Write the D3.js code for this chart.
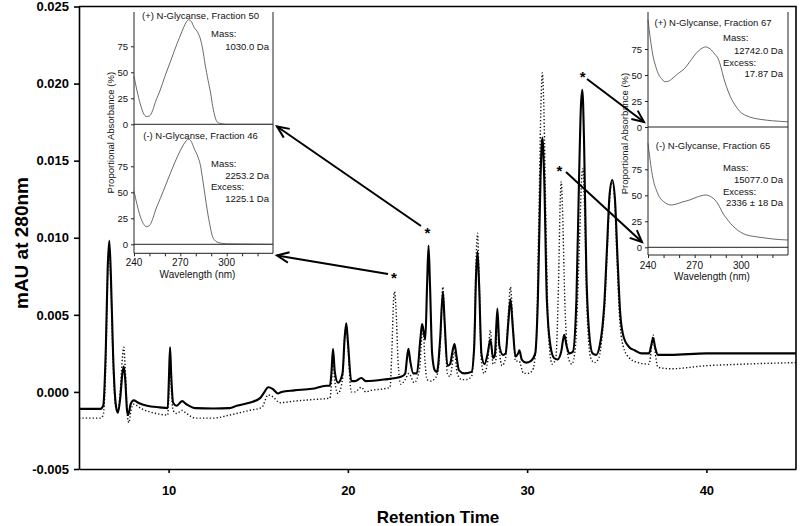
<!DOCTYPE html>
<html><head><meta charset="utf-8">
<script src="https://cdn.jsdelivr.net/npm/d3@7"></script>
<style>
body{margin:0;background:#fff;}
svg{display:block;font-family:"Liberation Sans",Arial,sans-serif;}
</style></head>
<body><svg id="c" width="800" height="526"></svg>
<script>
// ---------------- DATA ----------------
const xTicks = [10, 20, 30, 40];
const yTicks = [-0.005, 0, 0.005, 0.010, 0.015, 0.020, 0.025];

// (+) N-Glycanse chromatogram (solid)
const solidTime = [5.0,6.2,6.35,6.5,6.6,6.69,6.78,6.9,7.05,7.17,7.3,7.42,7.5,7.58,7.68,7.75,7.88,8.05,8.3,8.8,9.5,9.95,10.02,10.08,10.14,10.25,10.45,10.75,11.0,11.5,12.5,13.4,13.8,14.5,15.1,15.35,15.55,15.8,16.1,16.3,17.0,18.0,18.8,19.0,19.08,19.17,19.27,19.45,19.7,19.82,19.91,20.0,20.19,20.4,20.75,21.0,22.0,23.0,23.2,23.3,23.38,23.48,23.65,23.85,24.05,24.14,24.22,24.32,24.42,24.5,24.58,24.7,24.85,24.97,25.15,25.3,25.4,25.55,25.7,25.85,25.95,26.05,26.2,26.5,26.9,27.05,27.15,27.23,27.32,27.45,27.62,27.8,27.95,28.1,28.2,28.34,28.45,28.65,28.8,28.95,29.07,29.2,29.35,29.5,29.57,29.7,29.95,30.2,30.45,30.6,30.75,30.85,30.95,31.1,31.3,31.5,31.7,31.9,32.07,32.2,32.35,32.55,32.75,32.9,33.0,33.08,33.18,33.3,33.45,33.65,33.85,34.05,34.2,34.3,34.45,34.6,34.75,34.9,35.05,35.2,35.4,35.7,36.0,36.4,36.8,36.92,37.03,37.14,37.3,38.0,40.0,42.0,45.0];
const solidMAU  = [-0.0011,-0.0011,-0.0009,0.0030,0.0080,0.0098,0.0075,0.0025,-0.0008,-0.00135,-0.0004,0.0012,0.00165,0.0008,-0.0012,-0.0015,-0.0008,-0.00055,-0.0007,-0.0009,-0.0010,-0.00105,0.0010,0.0029,0.0012,-0.0007,-0.0009,-0.0006,-0.0008,-0.00105,-0.00108,-0.00105,-0.0009,-0.0007,-0.0004,0.0000,0.0003,0.0002,-0.0001,0.0000,0.0001,0.0002,0.0004,0.0004,0.0012,0.0028,0.0013,0.0006,0.0012,0.0035,0.00445,0.0033,0.0007,0.0007,0.0009,0.0007,0.0008,0.0010,0.0012,0.0022,0.0028,0.0020,0.0012,0.0012,0.0035,0.0044,0.0040,0.0034,0.0070,0.0095,0.0070,0.0025,0.0014,0.0013,0.0035,0.0065,0.0045,0.0017,0.0018,0.0027,0.0031,0.0024,0.0014,0.0012,0.0013,0.0030,0.0075,0.0091,0.0070,0.0025,0.0018,0.0025,0.0034,0.0022,0.0024,0.0054,0.0030,0.0024,0.0025,0.0045,0.0060,0.0042,0.0023,0.0025,0.0027,0.0021,0.0019,0.0020,0.0025,0.0060,0.0140,0.0165,0.0140,0.0060,0.0030,0.0022,0.0021,0.0026,0.0037,0.0030,0.0025,0.0026,0.0060,0.0140,0.0185,0.0196,0.0160,0.0080,0.0040,0.0025,0.0024,0.0030,0.0042,0.0056,0.0092,0.0128,0.01375,0.0125,0.0085,0.0050,0.0035,0.0029,0.0027,0.0025,0.0025,0.0030,0.0035,0.0029,0.0024,0.0024,0.0025,0.0025,0.0025];

// (-) N-Glycanse chromatogram (dotted)
const dottedTime = [5.0,6.2,6.35,6.5,6.6,6.69,6.78,6.9,7.05,7.17,7.3,7.42,7.5,7.58,7.7,7.78,7.9,8.05,8.5,9.3,9.95,10.03,10.08,10.14,10.25,10.45,10.75,11.0,11.5,12.5,13.4,14.5,15.2,15.55,15.8,16.2,17.0,18.0,19.0,19.08,19.17,19.27,19.45,19.7,19.82,19.91,20.0,20.19,20.4,20.75,21.0,21.3,22.0,22.35,22.45,22.55,22.6,22.68,22.8,22.95,23.2,23.4,23.7,24.0,24.12,24.2,24.3,24.42,24.6,24.8,25.0,25.15,25.3,25.4,25.55,25.7,25.95,26.1,26.35,26.6,26.9,27.05,27.15,27.23,27.32,27.45,27.6,27.8,27.95,28.1,28.25,28.34,28.45,28.6,28.8,28.95,29.07,29.2,29.35,29.55,29.8,30.05,30.3,30.5,30.65,30.78,30.85,30.92,31.05,31.2,31.4,31.6,31.75,31.85,31.9,31.97,32.1,32.3,32.5,32.7,32.9,33.05,33.12,33.2,33.35,33.55,33.75,34.0,34.2,34.35,34.5,34.65,34.75,34.88,35.0,35.15,35.35,35.7,36.2,36.8,36.95,37.03,37.12,37.3,38.0,40.0,42.0,45.0];
const dottedMAU  = [-0.0017,-0.0017,-0.0015,0.0020,0.0075,0.0092,0.0070,0.0020,-0.0010,-0.0013,0.0000,0.0022,0.0029,0.0015,-0.0015,-0.0020,-0.0012,-0.0008,-0.0011,-0.0014,-0.0015,0.0005,0.0024,0.0005,-0.0012,-0.0014,-0.0012,-0.0014,-0.0017,-0.0017,-0.0015,-0.0012,-0.0010,-0.0002,-0.0003,-0.0007,-0.0006,-0.0005,-0.0004,0.0005,0.0022,0.0007,-0.0001,0.0008,0.0035,0.0044,0.0030,0.0000,0.0000,0.0003,0.0000,0.0001,0.0002,0.0003,0.0025,0.0060,0.0065,0.0055,0.0020,0.0005,0.0008,0.0012,0.0006,0.0015,0.0035,0.0040,0.0020,0.0008,0.0007,0.0008,0.0012,0.0030,0.0068,0.0045,0.0012,0.0010,0.0026,0.0012,0.0008,0.0008,0.0010,0.0035,0.0085,0.0103,0.0075,0.0020,0.0012,0.0020,0.0040,0.0018,0.0020,0.0050,0.0028,0.0017,0.0022,0.0050,0.0068,0.0045,0.0020,0.0020,0.0012,0.0012,0.0014,0.0030,0.0110,0.0190,0.0207,0.0190,0.0110,0.0035,0.0018,0.0022,0.0070,0.0125,0.01365,0.0120,0.0060,0.0022,0.0018,0.0030,0.0090,0.0140,0.0145,0.0120,0.0050,0.0022,0.0019,0.0022,0.0038,0.0060,0.0100,0.0132,0.0137,0.0125,0.0090,0.0050,0.0030,0.0022,0.0019,0.0018,0.0030,0.0037,0.0028,0.0016,0.0015,0.0017,0.0018,0.0019];

// UV spectra of fractions (wavelength nm, proportional absorbance %)
const specWavelengthTicks = [240,250,260,270,280,290,300,310,320];
const specLabelTicks = [240,270,300];
const specPctTicks = [0,25,50,75];
const plus50Nm  = [240,242,244,246,248,250,252,254,257,260,264,268,271,273,275.3,277,279,281.4,283,284.5,286,288,289.6,291,292.5,294,297,300,330];
const plus50Pct = [46,32,20,11,7.5,8,13,22,33,46,62,78,89,96,100.5,99,93,88,82,72,58,42,30,17,7,2,0.5,0,0];
const minus46Nm  = [240,242,244,246,248,250,252,254,257,260,264,268,271,273,275.3,277,279,281.4,283,284.5,286,287.5,289.2,290.5,292.2,295,300,310,330];
const minus46Pct = [51,38,27,20,17,18,24,33,44,55,70,84,93,98,101,99,92,84,76,62,47,32,18,9,4,1.5,0.5,0.3,0];
const plus67Nm  = [240,241.5,243,245,247,249,250.7,253,256,259,263.6,267,271,274,277,280,283,285,287,288.5,290.4,293,296,299,303,308,312,320,330];
const plus67Pct = [103,85,70,58,50,46,43.6,44,47,51,56.4,63,71,75,77,75,70,66,57,48,39,29,21,15,11,8.5,7.4,6,5];
const minus65Nm  = [240,241,242.5,244,245.4,247.5,250,252.5,255,258,262,266.8,271,274,277.5,280,283.9,286,288,290.4,293,296,299,303,308,312,320,330];
const minus65Pct = [100,88,72,61,55,48,44,41.5,40.7,41.5,43.5,45.5,48,49.5,50.3,49,44,39,33,28,23,18.5,15,12,10.5,9.6,8,7];

const panelTitles = ["(+) N-Glycanse, Fraction 50","(-) N-Glycanse, Fraction 46","(+) N-Glycanse, Fraction 67","(-) N-Glycanse, Fraction 65"];
const panelNotes = [
  ["Mass:","1030.0 Da"],
  ["Mass:","2253.2 Da","Excess:","1225.1 Da"],
  ["Mass:","12742.0 Da","Excess:","17.87 Da"],
  ["Mass:","15077.0 Da","Excess:","2336 \u00b1 18 Da"]
];

// ---------------- CHART ----------------
const svg = d3.select("#c");
const x = d3.scaleLinear().domain([5,45]).range([79,796]);
const y = d3.scaleLinear().domain([-0.005,0.025]).range([469,6.5]);

const zip = (a,b) => a.map((v,i)=>[v,b[i]]);
const line = d3.line().x(d=>x(d[0])).y(d=>y(d[1])).curve(d3.curveMonotoneX);

svg.append("path").attr("d", line(zip(dottedTime,dottedMAU)))
  .attr("fill","none").attr("stroke","#111").attr("stroke-width",1.4)
  .attr("stroke-dasharray","1.3,2.1");
svg.append("path").attr("d", line(zip(solidTime,solidMAU)))
  .attr("fill","none").attr("stroke","#000").attr("stroke-width",2.1)
  .attr("stroke-linejoin","round");

// frame
svg.append("path").attr("d",`M${x(5)},${y(0.025)}H${x(45)}V${y(-0.005)}`)
  .attr("fill","none").attr("stroke","#000").attr("stroke-width",1.6);

const yAx = svg.append("g").attr("transform",`translate(${x(5)},0)`)
  .call(d3.axisLeft(y).tickValues(yTicks).tickFormat(d=>d.toFixed(3)).tickSize(5).tickSizeOuter(0).tickPadding(5));
const xAx = svg.append("g").attr("transform",`translate(0,${y(-0.005)})`)
  .call(d3.axisBottom(x).tickValues(xTicks).tickFormat(d3.format("d")).tickSize(4).tickSizeOuter(0).tickPadding(13));
[yAx,xAx].forEach(g=>{
  g.selectAll("path,line").attr("stroke","#000").attr("stroke-width",1.6);
  g.selectAll("text").attr("font-size",13).attr("font-weight","bold")
   .attr("font-family","'Liberation Sans',Arial,sans-serif").attr("fill","#000");
});

svg.append("text").attr("transform","translate(28,243) rotate(-90)")
  .attr("text-anchor","middle").attr("font-size",19).attr("font-weight","bold").text("mAU at 280nm");
svg.append("text").attr("x",438).attr("y",523)
  .attr("text-anchor","middle").attr("font-size",17).attr("font-weight","bold").text("Retention Time");

// ---------------- INSETS ----------------
const insets = [
  {x0:134,x1:273,top:12,z1:124.3,z2:244.3,ax:253.3,specs:[zip(plus50Nm,plus50Pct),zip(minus46Nm,minus46Pct)],t:[0,1],
   titleY:[18.5,138.5],titleDx:-3,noteX:211,noteR:269,noteY:[[36.5,50],[166.5,178.5,190,202]],labY:265.5,wlY:278},
  {x0:648,x1:788,top:12,z1:127,z2:247.3,ax:255,specs:[zip(plus67Nm,plus67Pct),zip(minus65Nm,minus65Pct)],t:[2,3],
   titleY:[25.5,148.5],titleDx:-5,noteX:723,noteR:783,noteY:[[40.5,54,65.5,76.5],[170.5,182.5,194.5,206]],labY:268.5,wlY:279.5}
];
insets.forEach(ins=>{
  const g = svg.append("g");
  const xw = d3.scaleLinear().domain([240,330]).range([ins.x0,ins.x1]);
  const p1 = d3.scaleLinear().domain([0,100]).range([ins.z1,ins.z1-104]);
  const p2 = d3.scaleLinear().domain([0,100]).range([ins.z2,ins.z2-104]);
  g.append("rect").attr("x",ins.x0).attr("y",ins.top).attr("width",ins.x1-ins.x0).attr("height",ins.ax-ins.top).attr("fill","#fff");
  const ln = (d)=>g.append("path").attr("d",d).attr("fill","none").attr("stroke","#222").attr("stroke-width",1);
  ln(`M${ins.x0},${ins.top}V${ins.ax}`);
  ln(`M${ins.x1},${ins.top}V${ins.ax}`);
  ln(`M${ins.x0},${ins.z1}H${ins.x1}`);
  ln(`M${ins.x0},${ins.z2}H${ins.x1}`);
  [p1,p2].forEach((p,i)=>{
    const sl = d3.line().x(d=>xw(d[0])).y(d=>p(d[1])).curve(d3.curveMonotoneX);
    g.append("path").attr("d",sl(ins.specs[i])).attr("fill","none").attr("stroke","#444").attr("stroke-width",0.8);
    const a = g.append("g").attr("transform",`translate(${ins.x0},0)`)
      .call(d3.axisLeft(p).tickValues(specPctTicks).tickSize(3).tickSizeOuter(0).tickPadding(3));
    a.select(".domain").remove();
    a.selectAll("line").attr("stroke","#222");
    a.selectAll("text").attr("font-size",9.5).attr("font-family","'Liberation Sans',Arial,sans-serif").attr("fill","#111");
    g.append("text").attr("x",(ins.x0+ins.x1)/2+ins.titleDx).attr("y",ins.titleY[i]).attr("text-anchor","middle")
      .attr("font-size",9.5).attr("fill","#111").text(panelTitles[ins.t[i]]);
    const notes = panelNotes[ins.t[i]];
    notes.forEach((s,k)=>{
      g.append("text").attr("x",k%2===0?ins.noteX:ins.noteR).attr("y",ins.noteY[i][k])
        .attr("text-anchor",k%2===0?"start":"end").attr("font-size",9.5).attr("fill","#111").text(s);
    });
  });
  const xa = g.append("g").attr("transform",`translate(0,${ins.ax})`)
    .call(d3.axisBottom(xw).tickValues(specWavelengthTicks).tickSize(3).tickSizeOuter(0)
      .tickFormat(d=>specLabelTicks.includes(d)?d:""));
  xa.select(".domain").attr("d",`M${ins.x0},0H${ins.x1}`).attr("stroke","#222");
  xa.selectAll("line").attr("stroke","#222");
  xa.selectAll("text").remove();
  specLabelTicks.forEach(v=>g.append("text").attr("x",xw(v)).attr("y",ins.labY).attr("text-anchor","middle")
    .attr("font-size",10).attr("fill","#111").text(v));
  g.append("text").attr("x",(ins.x0+ins.x1)/2-6).attr("y",ins.wlY).attr("text-anchor","middle")
    .attr("font-size",10).attr("fill","#111").text("Wavelength (nm)");
  g.append("text").attr("transform",`translate(${ins.x0-20},${(ins.top+ins.ax)/2}) rotate(-90)`)
    .attr("text-anchor","middle").attr("font-size",9.5).attr("fill","#111").text("Proportional Absorbance (%)");
});

// ---------------- ANNOTATIONS (asterisks + arrows) ----------------
const marks = [
  {star:[24.44,0.0105], from:[421,226], tip:[277,126.5]},
  {star:[22.57,0.0076], from:[388,274], tip:[277,255.5]},
  {star:[33.1,0.0206],  from:[587,79],  tip:[644,122]},
  {star:[31.8,0.0145],  from:[566,172], tip:[642,242]}
];
marks.forEach(m=>{
  svg.append("text").attr("x",x(m.star[0])).attr("y",y(m.star[1])+8).attr("text-anchor","middle")
    .attr("font-size",15).attr("font-weight","bold").text("*");
  const [fx,fy]=m.from,[tx,ty]=m.tip;
  const ang=Math.atan2(ty-fy,tx-fx), L=13, sp=0.42;
  svg.append("path").attr("d",`M${fx},${fy}L${tx},${ty}`).attr("stroke","#000").attr("stroke-width",2).attr("fill","none");
  svg.append("path").attr("d",`M${tx-L*Math.cos(ang-sp)},${ty-L*Math.sin(ang-sp)}L${tx},${ty}L${tx-L*Math.cos(ang+sp)},${ty-L*Math.sin(ang+sp)}`)
    .attr("stroke","#000").attr("stroke-width",2).attr("fill","none").attr("stroke-linejoin","miter");
});
</script></body></html>
